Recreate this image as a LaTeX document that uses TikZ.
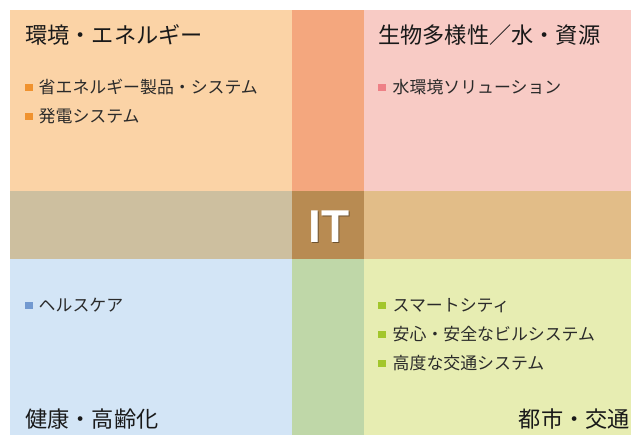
\documentclass[tikz,border=0pt]{standalone}
\usepackage{fontspec}
\setmainfont{Noto Sans CJK JP}
\newfontfamily\itfont{Liberation Sans}
\definecolor{cTL}{HTML}{FBD3A6}
\definecolor{cTM}{HTML}{F4A77E}
\definecolor{cTR}{HTML}{F8CBC5}
\definecolor{cML}{HTML}{CDBF9F}
\definecolor{cMM}{HTML}{B88B52}
\definecolor{cMR}{HTML}{E2BD88}
\definecolor{cBL}{HTML}{D3E5F6}
\definecolor{cBM}{HTML}{BFD7A8}
\definecolor{cBR}{HTML}{E7EDB2}
\definecolor{bOr}{HTML}{F0922E}
\definecolor{bPk}{HTML}{EE8086}
\definecolor{bBl}{HTML}{7299D0}
\definecolor{bGr}{HTML}{A2C62C}
\definecolor{txt}{HTML}{2A2A2A}
\tikzset{
  title/.style={anchor=base west, inner sep=0pt, font=\fontsize{22.2}{24}\selectfont, text=black!90},
  item/.style={anchor=base west, inner sep=0pt, font=\fontsize{16.9}{19}\selectfont, text=txt},
  bul/.style={rectangle, inner sep=0pt, minimum size=7.5pt, fill=#1},
  itfnt/.style={inner sep=0pt, anchor=base, font=\itfont\bfseries\fontsize{46}{50}\selectfont},
}
\begin{document}
\begin{tikzpicture}[x=1pt,y=-1pt]
\useasboundingbox (0,0) rectangle (631,435);
\fill[white] (0,0) rectangle (631,435);
% grid of colour fields
\fill[cTL] (10,10) rectangle (292,191);
\fill[cTM] (292,10) rectangle (364,191);
\fill[cTR] (364,10) rectangle (631,191);
\fill[cML] (10,191) rectangle (292,259);
\fill[cMM] (292,191) rectangle (364,259);
\fill[cMR] (364,191) rectangle (631,259);
\fill[cBL] (10,259) rectangle (292,435);
\fill[cBM] (292,259) rectangle (364,435);
\fill[cBR] (364,259) rectangle (631,435);
% IT
\node[itfnt, text=black!40!cMM] (itsh) at (329.9,243.8) {IT};
\node[itfnt, text=white] (it) at (329,243) {IT};
% top-left
\node[title] (t1) at (25,43.5) {環境・エネルギー};
\node[bul=bOr] (b11) at (29,87.3) {};
\node[item] (i11) at (38.5,93.8) {省エネルギー製品・システム};
\node[bul=bOr] (b12) at (29,116.3) {};
\node[item] (i12) at (38.5,122.8) {発電システム};
% top-right
\node[title] (t2) at (378,43.5) {生物多様性／水・資源};
\node[bul=bPk] (b21) at (382,87.3) {};
\node[item] (i21) at (392.5,93.8) {水環境ソリューション};
% bottom-left
\node[bul=bBl] (b31) at (29,305.3) {};
\node[item] (i31) at (38.5,311.8) {ヘルスケア};
\node[title] (t3) at (25,427) {健康・高齢化};
% bottom-right
\node[bul=bGr] (b41) at (382,305.3) {};
\node[item] (i41) at (392.5,311.8) {スマートシティ};
\node[bul=bGr] (b42) at (382,334.3) {};
\node[item] (i42) at (392.5,340.8) {安心・安全なビルシステム};
\node[bul=bGr] (b43) at (382,363.3) {};
\node[item] (i43) at (392.5,369.8) {高度な交通システム};
\node[title, anchor=base east] (t4) at (630,427) {都市・交通};
\end{tikzpicture}
\end{document}
